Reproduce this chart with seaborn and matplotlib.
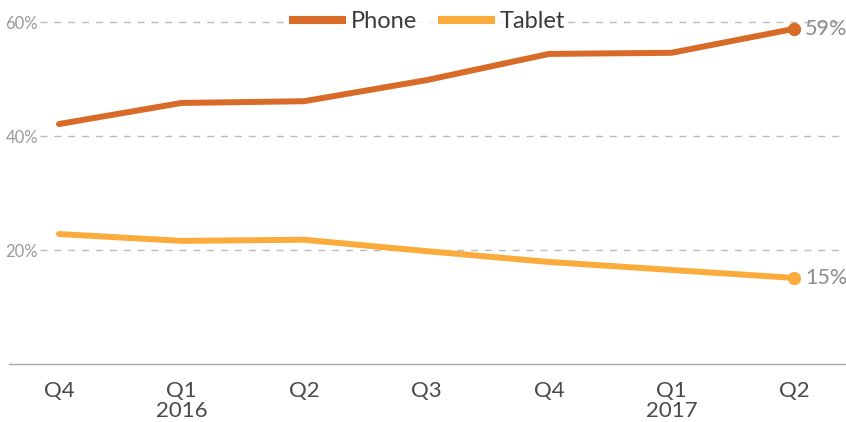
import matplotlib
matplotlib.use("Agg")
import matplotlib.pyplot as plt
import seaborn as sns
import pandas as pd
import numpy as np
from matplotlib.lines import Line2D

quarters = ["Q4", "Q1\n2016", "Q2", "Q3", "Q4", "Q1\n2017", "Q2"]
phone = [42.1, 45.8, 46.1, 49.8, 54.4, 54.6, 58.8]
tablet = [22.8, 21.6, 21.8, 19.8, 17.9, 16.5, 15.1]
series_names = ["Phone", "Tablet"]
colors = ["#D86B28", "#FBAA3C"]
y_ticks = [20, 40, 60]
end_labels = ["59%", "15%"]

sns.set_theme(style="white")
plt.rcParams['font.family'] = ['Lato', 'DejaVu Sans']
plt.rcParams['font.weight'] = 'normal'

df = pd.DataFrame({
    "idx": list(range(len(quarters))) * 2,
    "value": phone + tablet,
    "device": [series_names[0]] * len(phone) + [series_names[1]] * len(tablet),
})

fig = plt.figure(figsize=(8.46, 4.22), dpi=100)
ax = fig.add_axes([9 / 846, 58 / 422, 837 / 846, 364 / 422])

sns.lineplot(data=df, x="idx", y="value", hue="device", palette=colors,
             linewidth=4.3, ax=ax, legend=False, solid_capstyle="round", zorder=3)

ax.set_xlim(-0.408, 6.424)
ax.set_ylim(0, 63.86)

# gridlines
for yv in y_ticks:
    ax.axhline(yv, xmin=31 / 837, xmax=1, color="#BBBBBB", lw=1,
               ls=(0, (5, 5)), zorder=1)

# endpoint markers and labels
for vals, col, lab in zip([phone, tablet], colors, end_labels):
    ax.plot([len(vals) - 1], [vals[-1]], "o", color=col, ms=8.5, zorder=4)
    ax.annotate(lab, (len(vals) - 1, vals[-1]), xytext=(8, 0),
                textcoords="offset points", va="center", ha="left",
                fontsize=15.5, color="#8C8C8C")

ax.set_xticks(range(len(quarters)))
ax.set_xticklabels(quarters, fontsize=16, color="#4A4A4A", linespacing=1.0)
ax.tick_params(axis="x", length=0, pad=12)

ax.set_yticks(y_ticks)
ax.set_yticklabels([f"{v}%" for v in y_ticks], fontsize=12, color="#999999")
ax.tick_params(axis="y", length=0, pad=-21)

for s in ["top", "left", "right"]:
    ax.spines[s].set_visible(False)
ax.spines["bottom"].set_color("#AAAAAA")
ax.spines["bottom"].set_linewidth(1)
ax.set_xlabel("")
ax.set_ylabel("")

handles = [Line2D([0], [0], color=c, lw=5.8, solid_capstyle="butt") for c in colors]
leg = ax.legend(handles, series_names, loc="center", bbox_to_anchor=(427 / 846, 1 - 22 / 422),
                bbox_transform=fig.transFigure, ncol=2, frameon=True, fontsize=17,
                handlelength=2.4, handletextpad=0.2, columnspacing=0.9,
                borderpad=0.1, borderaxespad=0)
leg.get_frame().set_facecolor("white")
leg.get_frame().set_edgecolor("none")
for t in leg.get_texts():
    t.set_color("#3A3A3A")

fig.savefig("out.png", dpi=100)
